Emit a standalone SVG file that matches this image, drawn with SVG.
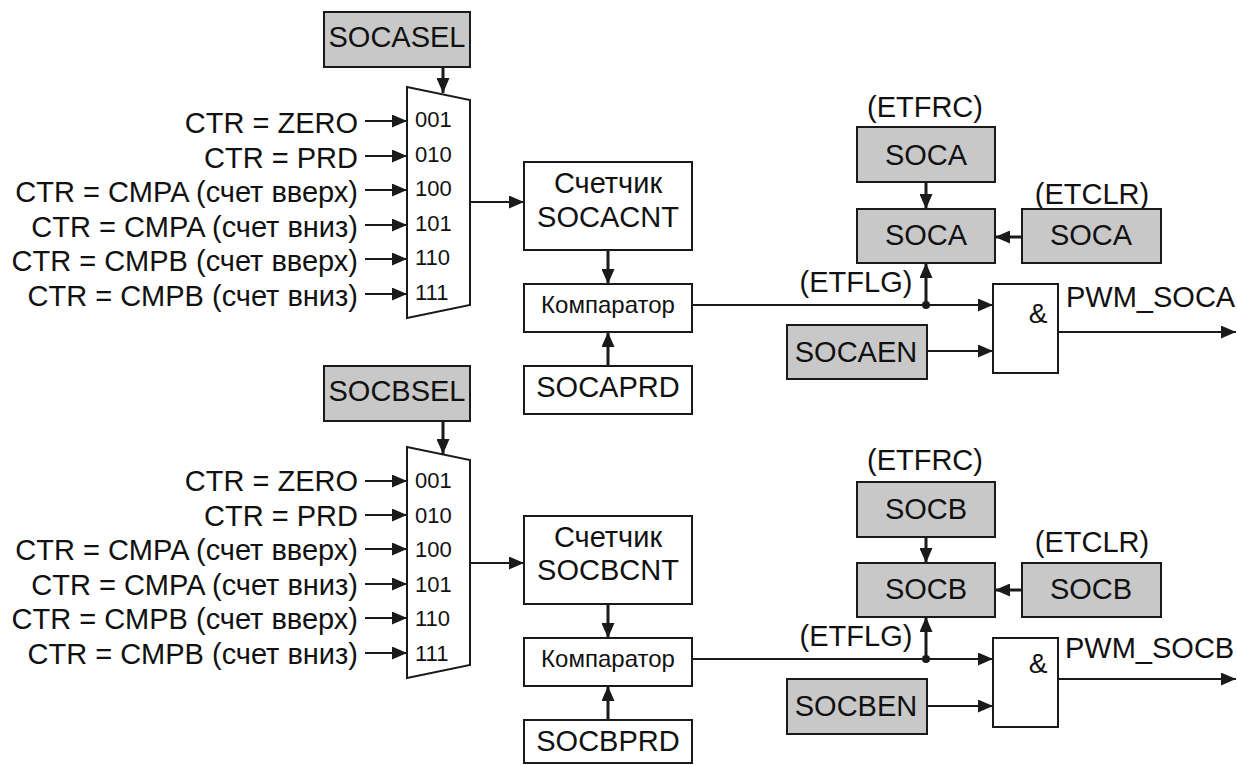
<svg xmlns="http://www.w3.org/2000/svg" width="1237" height="765" viewBox="0 0 1237 765">
<style>
text { font-family: "Liberation Sans", Arial, sans-serif; fill:#111; font-size:29px; }
.c { text-anchor: middle; }
.e { text-anchor: end; }
.d { font-size:22px; }
.k { font-size:24px; }
.amp { font-size:28px; text-anchor: middle; }
.g { fill:#c8c8c8; stroke:#1a1a1a; stroke-width:2; }
.w { fill:#fff; stroke:#1a1a1a; stroke-width:2; }
.ln { stroke:#1a1a1a; stroke-width:2; fill:none; }
.th { stroke:#1a1a1a; stroke-width:3; fill:none; }
</style>
<defs>
<marker id="a" markerUnits="userSpaceOnUse" markerWidth="15" markerHeight="13" refX="15" refY="6.5" orient="auto"><path d="M0,0 L15,6.5 L0,13 z" fill="#1a1a1a"/></marker>
</defs>
<rect width="1237" height="765" fill="#fff"/>

<g id="connectors">
<line class="th" x1="443" y1="67" x2="443" y2="93" marker-end="url(#a)"/>
<line class="ln" x1="365" y1="121" x2="407" y2="121" marker-end="url(#a)"/>
<line class="ln" x1="365" y1="156" x2="407" y2="156" marker-end="url(#a)"/>
<line class="ln" x1="365" y1="190" x2="407" y2="190" marker-end="url(#a)"/>
<line class="ln" x1="365" y1="225" x2="407" y2="225" marker-end="url(#a)"/>
<line class="ln" x1="365" y1="259" x2="407" y2="259" marker-end="url(#a)"/>
<line class="ln" x1="365" y1="294" x2="407" y2="294" marker-end="url(#a)"/>
<line class="ln" x1="470" y1="202" x2="524" y2="202" marker-end="url(#a)"/>
<line class="th" x1="608" y1="250" x2="608" y2="284" marker-end="url(#a)"/>
<line class="th" x1="608" y1="366" x2="608" y2="332" marker-end="url(#a)"/>
<line class="ln" x1="692" y1="305" x2="993" y2="305" marker-end="url(#a)"/>
<circle cx="926" cy="305" r="4" fill="#1a1a1a"/>
<line class="th" x1="926" y1="305" x2="926" y2="263" marker-end="url(#a)"/>
<line class="th" x1="926" y1="182" x2="926" y2="209" marker-end="url(#a)"/>
<line class="th" x1="1022" y1="237" x2="995" y2="237" marker-end="url(#a)"/>
<line class="ln" x1="927" y1="351" x2="993" y2="351" marker-end="url(#a)"/>
<line class="ln" x1="1058" y1="332" x2="1236" y2="332" marker-end="url(#a)"/>
<line class="th" x1="443" y1="421" x2="443" y2="454" marker-end="url(#a)"/>
<line class="ln" x1="365" y1="481" x2="407" y2="481" marker-end="url(#a)"/>
<line class="ln" x1="365" y1="515" x2="407" y2="515" marker-end="url(#a)"/>
<line class="ln" x1="365" y1="549" x2="407" y2="549" marker-end="url(#a)"/>
<line class="ln" x1="365" y1="584" x2="407" y2="584" marker-end="url(#a)"/>
<line class="ln" x1="365" y1="618" x2="407" y2="618" marker-end="url(#a)"/>
<line class="ln" x1="365" y1="653" x2="407" y2="653" marker-end="url(#a)"/>
<line class="ln" x1="470" y1="563" x2="524" y2="563" marker-end="url(#a)"/>
<line class="th" x1="608" y1="604" x2="608" y2="638" marker-end="url(#a)"/>
<line class="th" x1="608" y1="720" x2="608" y2="686" marker-end="url(#a)"/>
<line class="ln" x1="692" y1="659" x2="993" y2="659" marker-end="url(#a)"/>
<circle cx="926" cy="659" r="4" fill="#1a1a1a"/>
<line class="th" x1="926" y1="659" x2="926" y2="617" marker-end="url(#a)"/>
<line class="th" x1="926" y1="537" x2="926" y2="563" marker-end="url(#a)"/>
<line class="th" x1="1022" y1="590" x2="995" y2="590" marker-end="url(#a)"/>
<line class="ln" x1="927" y1="706" x2="993" y2="706" marker-end="url(#a)"/>
<line class="ln" x1="1058" y1="679" x2="1236" y2="679" marker-end="url(#a)"/>
</g>

<g id="labels-a">
<text class="e" x="358" y="133">CTR = ZERO</text>
<text class="e" x="358" y="168">CTR = PRD</text>
<text class="e" x="358" y="202">CTR = CMPA (счет вверх)</text>
<text class="e" x="358" y="237">CTR = CMPA (счет вниз)</text>
<text class="e" x="358" y="271">CTR = CMPB (счет вверх)</text>
<text class="e" x="358" y="306">CTR = CMPB (счет вниз)</text>
</g>
<g id="socasel"><rect class="g" x="324" y="12" width="146" height="55"/><text class="c" x="397" y="47">SOCASEL</text></g>
<g id="mux-a">
<polygon class="w" points="407,87 470,100 470,305 407,318"/>
<text class="d" x="415" y="127">001</text>
<text class="d" x="415" y="162">010</text>
<text class="d" x="415" y="196">100</text>
<text class="d" x="415" y="231">101</text>
<text class="d" x="415" y="265">110</text>
<text class="d" x="415" y="300">111</text>
</g>
<g id="socacnt"><rect class="w" x="524" y="162" width="168" height="88"/><text class="c" x="608" y="193">Счетчик</text><text class="c" x="608" y="227">SOCACNT</text></g>
<g id="comp-a"><rect class="w" x="524" y="284" width="168" height="48"/><text class="c k" x="608" y="313">Компаратор</text></g>
<g id="socaprd"><rect class="w" x="524" y="366" width="168" height="48"/><text class="c" x="608" y="397">SOCAPRD</text></g>
<g id="etfrc-a"><text class="c" x="925" y="117">(ETFRC)</text><rect class="g" x="857" y="127" width="138" height="55"/><text class="c" x="926" y="165">SOCA</text></g>
<g id="etflg-a"><rect class="g" x="857" y="209" width="138" height="54"/><text class="c" x="926" y="245">SOCA</text><text class="c" x="856" y="292">(ETFLG)</text></g>
<g id="etclr-a"><text class="c" x="1092" y="204">(ETCLR)</text><rect class="g" x="1022" y="209" width="139" height="54"/><text class="c" x="1091" y="245">SOCA</text></g>
<g id="socaen"><rect class="g" x="787" y="325" width="140" height="54"/><text class="c" x="856" y="362">SOCAEN</text></g>
<g id="and-a"><rect class="w" x="993" y="284" width="65" height="89"/><text class="amp" x="1038" y="323">&amp;</text><text x="1066" y="307">PWM_SOCA</text></g>

<g id="labels-b">
<text class="e" x="358" y="491">CTR = ZERO</text>
<text class="e" x="358" y="526">CTR = PRD</text>
<text class="e" x="358" y="560">CTR = CMPA (счет вверх)</text>
<text class="e" x="358" y="595">CTR = CMPA (счет вниз)</text>
<text class="e" x="358" y="629">CTR = CMPB (счет вверх)</text>
<text class="e" x="358" y="664">CTR = CMPB (счет вниз)</text>
</g>
<g id="socbsel"><rect class="g" x="324" y="366" width="146" height="55"/><text class="c" x="397" y="401">SOCBSEL</text></g>
<g id="mux-b">
<polygon class="w" points="407,447 470,460 470,665 407,678"/>
<text class="d" x="415" y="488">001</text>
<text class="d" x="415" y="523">010</text>
<text class="d" x="415" y="557">100</text>
<text class="d" x="415" y="592">101</text>
<text class="d" x="415" y="626">110</text>
<text class="d" x="415" y="661">111</text>
</g>
<g id="socbcnt"><rect class="w" x="524" y="516" width="168" height="88"/><text class="c" x="608" y="547">Счетчик</text><text class="c" x="608" y="580">SOCBCNT</text></g>
<g id="comp-b"><rect class="w" x="524" y="638" width="168" height="48"/><text class="c k" x="608" y="667">Компаратор</text></g>
<g id="socbprd"><rect class="w" x="524" y="720" width="168" height="43"/><text class="c" x="608" y="751">SOCBPRD</text></g>
<g id="etfrc-b"><text class="c" x="925" y="470">(ETFRC)</text><rect class="g" x="857" y="482" width="138" height="55"/><text class="c" x="926" y="519">SOCB</text></g>
<g id="etflg-b"><rect class="g" x="857" y="563" width="138" height="54"/><text class="c" x="926" y="599">SOCB</text><text class="c" x="856" y="646">(ETFLG)</text></g>
<g id="etclr-b"><text class="c" x="1092" y="552">(ETCLR)</text><rect class="g" x="1022" y="563" width="139" height="54"/><text class="c" x="1091" y="599">SOCB</text></g>
<g id="socben"><rect class="g" x="787" y="679" width="140" height="55"/><text class="c" x="856" y="716">SOCBEN</text></g>
<g id="and-b"><rect class="w" x="993" y="638" width="65" height="89"/><text class="amp" x="1038" y="673">&amp;</text><text x="1065" y="658">PWM_SOCB</text></g>
</svg>
